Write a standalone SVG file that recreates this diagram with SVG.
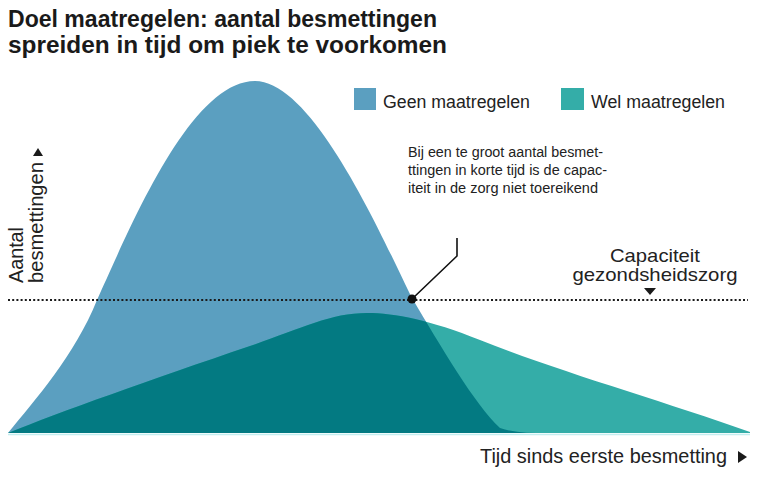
<svg xmlns="http://www.w3.org/2000/svg" width="763" height="478" viewBox="0 0 763 478">
  <style>
    .title { font-family: "Liberation Sans", Arial, sans-serif; font-weight: 700; font-size: 23px; fill: #1a1a1a; }
    .lbl { font-family: "Liberation Sans", Arial, sans-serif; font-size: 20px; fill: #222; }
    .cap { font-family: "Liberation Sans", Arial, sans-serif; font-size: 19px; fill: #222; }
    .leg { font-family: "Liberation Sans", Arial, sans-serif; font-size: 17.5px; fill: #222; }
    .note { font-family: "Liberation Sans", Arial, sans-serif; font-size: 14px; fill: #222; }
    .tri { fill: #1a1a1a; }
  </style>
  <defs>
    <path id="blueShape" d="M8,433 C35,400 75,355 97,300 C130,228 190,81 255,81 C315,81 385,244 412,298 C440,345 475,405 500,428 C515,433 530,433 545,433 Z"/>
    <path id="greenShape" d="M8,433 C60,412 150,380 250,346 C300,329 330,313 367,313 C395,313 430,320 480,340 C560,372 660,400 750,432 L750,433 Z"/>
    <clipPath id="blueClip"><use href="#blueShape"/></clipPath>
  </defs>
  <rect width="763" height="478" fill="#ffffff"/>

  <g id="title">
    <text class="title" x="8" y="27" textLength="429" lengthAdjust="spacingAndGlyphs">Doel maatregelen: aantal besmettingen</text>
    <text class="title" x="8" y="53" textLength="439" lengthAdjust="spacingAndGlyphs">spreiden in tijd om piek te voorkomen</text>
  </g>

  <g id="curves">
    <line x1="8" y1="434.5" x2="750" y2="434.5" stroke="#c4eef0" stroke-width="1.5"/>
    <use id="geen-curve" href="#blueShape" fill="#5b9fc0"/>
    <use id="wel-curve" href="#greenShape" fill="#34ada8"/>
    <use id="overlap" href="#greenShape" fill="#037a82" clip-path="url(#blueClip)"/>
  </g>

  <g id="legend">
    <g id="legend-geen">
      <rect x="354" y="88" width="22" height="22" fill="#5b9fc0"/>
      <text class="leg" x="383" y="108" textLength="147" lengthAdjust="spacingAndGlyphs">Geen maatregelen</text>
    </g>
    <g id="legend-wel">
      <rect x="561" y="88" width="23" height="22" fill="#34ada8"/>
      <text class="leg" x="591" y="108" textLength="134" lengthAdjust="spacingAndGlyphs">Wel maatregelen</text>
    </g>
  </g>

  <g id="capacity">
    <line x1="8" y1="300" x2="748" y2="300" stroke="#1a1a1a" stroke-width="2" stroke-dasharray="2 2.2"/>
    <text class="cap" x="655" y="262" text-anchor="middle" textLength="90" lengthAdjust="spacingAndGlyphs">Capaciteit</text>
    <text class="cap" x="655" y="281" text-anchor="middle" textLength="165" lengthAdjust="spacingAndGlyphs">gezondsheidszorg</text>
    <polygon class="tri" points="644,288 656,288 650,295"/>
  </g>

  <g id="annotation">
    <text class="note" x="408" y="157" textLength="195" lengthAdjust="spacingAndGlyphs">Bij een te groot aantal besmet-</text>
    <text class="note" x="408" y="175" textLength="199" lengthAdjust="spacingAndGlyphs">ttingen in korte tijd is de capac-</text>
    <text class="note" x="408" y="193" textLength="190" lengthAdjust="spacingAndGlyphs">iteit in de zorg niet toereikend</text>
  </g>

  <g id="connectors">
    <polyline points="457,238 457,256 412,299" fill="none" stroke="#111" stroke-width="1.6"/>
    <circle cx="412" cy="299" r="4.5" fill="#111"/>
  </g>

  <g id="y-axis">
    <text class="lbl" transform="translate(23,283) rotate(-90)" x="0" y="0" textLength="56" lengthAdjust="spacingAndGlyphs">Aantal</text>
    <text class="lbl" transform="translate(43,283) rotate(-90)" x="0" y="0" textLength="121" lengthAdjust="spacingAndGlyphs">besmettingen</text>
    <polygon class="tri" points="33,156 43,156 38,148"/>
  </g>

  <g id="x-axis">
    <text class="lbl" x="480" y="463" textLength="247" lengthAdjust="spacingAndGlyphs">Tijd sinds eerste besmetting</text>
    <polygon class="tri" points="738,451 738,463 747,457"/>
  </g>
</svg>
